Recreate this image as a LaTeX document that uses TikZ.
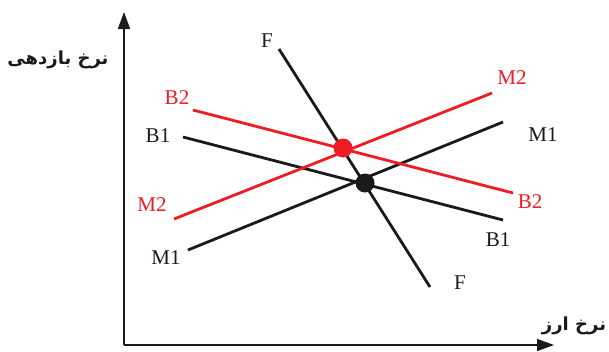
\documentclass[tikz,border=0pt]{standalone}
\usepackage{fontspec}
\setmainfont{Liberation Serif}
\newfontfamily\farsi[Script=Arabic]{DejaVu Sans}
\TeXXeTstate=1
\usepackage{tikz}
\usetikzlibrary{arrows.meta}
\definecolor{cRed}{HTML}{EE1C25}
\definecolor{cInk}{HTML}{1A1A1A}
\tikzset{
  axis/.style={draw=cInk, line width=1.6pt, -{Triangle[length=17pt, width=12pt]}},
  curve/.style={draw=#1, line width=2.8pt},
  tag/.style={text=#1, font=\fontsize{21}{24}\selectfont, inner sep=0pt},
  dot/.style={circle, fill=#1, draw=none, minimum width=19pt, minimum height=17pt, inner sep=0pt},
  faxis/.style={font=\fontsize{18}{20}\selectfont\farsi\bfseries, text=cInk, inner sep=0pt},
}

\begin{document}
\begin{tikzpicture}[x=1pt, y=-1pt]
\useasboundingbox (0,0) rectangle (609,351);

% axes
\coordinate (o) at (124,345);
\coordinate (ytip) at (124,12);
\coordinate (xtip) at (554,345);
\draw[axis] (o) -- (ytip);
\draw[axis] (o) -- (xtip);
\node[faxis] (ylab) at (58,60) {\beginR نرخ بازدهی\endR};
\node[faxis] (xlab) at (574,326) {\beginR نرخ ارز\endR};

% line ends
\coordinate (fs) at (279,49);   \coordinate (fe) at (430,287);
\coordinate (b1s) at (183,137); \coordinate (b1e) at (503,220);
\coordinate (m1s) at (188,250); \coordinate (m1e) at (503,122);
\coordinate (b2s) at (193,110); \coordinate (b2e) at (513,193);
\coordinate (m2s) at (174,219); \coordinate (m2e) at (492,93);

\foreach \a/\b/\c in {fs/fe/cInk,b1s/b1e/cInk,m1s/m1e/cInk,b2s/b2e/cRed,m2s/m2e/cRed}
  \draw[curve=\c] (\a) -- (\b);

\node[dot=cInk] (eq1) at (365,183) {};
\node[dot=cRed] (eq2) at (343,148) {};

% labels
\node[tag=cInk] (fa) at (267,41) {F};
\node[tag=cInk] (fb) at (460,283) {F};
\node[tag=cInk] (b1a) at (158,136) {B1};
\node[tag=cInk] (b1b) at (498,240) {B1};
\node[tag=cInk] (m1a) at (166,258) {M1};
\node[tag=cInk] (m1b) at (543,135) {M1};
\node[tag=cRed] (b2a) at (177,98) {B2};
\node[tag=cRed] (b2b) at (530,202) {B2};
\node[tag=cRed] (m2a) at (152,205) {M2};
\node[tag=cRed] (m2b) at (512,78) {M2};
\end{tikzpicture}
\end{document}
